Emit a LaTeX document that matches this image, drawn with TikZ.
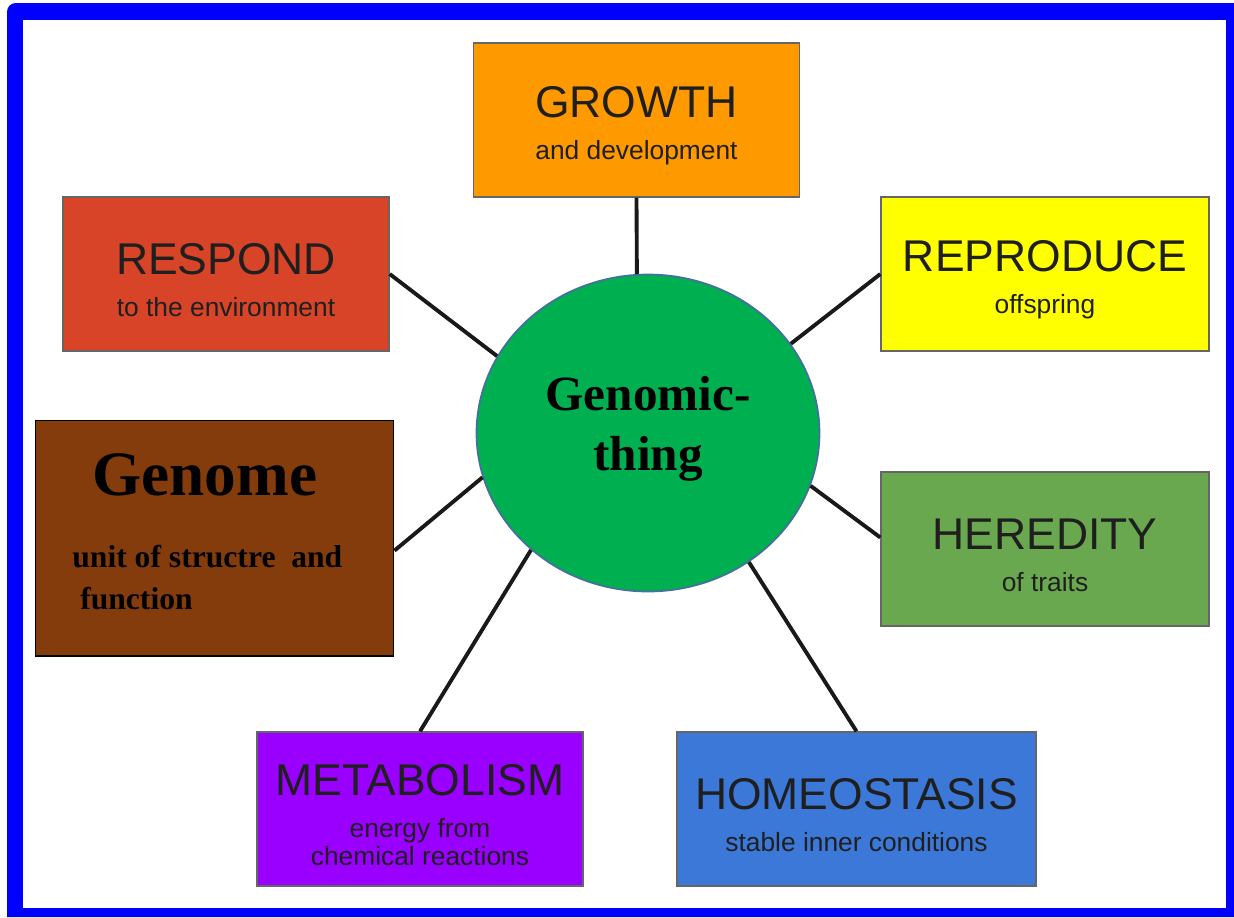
\documentclass[tikz,border=0pt]{standalone}
\usepackage{fontspec}
\setmainfont{Liberation Serif}
\newfontfamily\arialfont{Liberation Sans}
\usetikzlibrary{shapes.geometric}

\definecolor{frameblue}{HTML}{0000FF}
\definecolor{coregreen}{HTML}{00B050}
\definecolor{coreedge}{HTML}{41719C}
\definecolor{growthcol}{HTML}{FF9900}
\definecolor{respondcol}{HTML}{D84427}
\definecolor{reproducecol}{HTML}{FFFF00}
\definecolor{hereditycol}{HTML}{6AA84F}
\definecolor{metabolismcol}{HTML}{9900FF}
\definecolor{homeostasiscol}{HTML}{3C78D8}
\definecolor{genomecol}{HTML}{843C0C}

\newcommand\traittitle{\arialfont\fontsize{25.3}{25.3}\selectfont\rule{0pt}{24.5pt}}
\newcommand\traitsub{\arialfont\fontsize{15}{15.9}\selectfont}

\tikzset{
	trait/.style={draw=black!60, line width=0.8pt, minimum width=6.52cm, minimum height=3.08cm, align=center, inner sep=0pt, text=black!88, font=\traitsub},
	link/.style={draw=black!90, line width=2.2pt},
}

\begin{document}
\begin{tikzpicture}[x=0.02cm, y=-0.02cm]
	\useasboundingbox (0,0) rectangle (1234,917);
	\fill[frameblue] (1234,917) -- (7,917) [rounded corners=5pt] -- (7,3) [sharp corners] -- (1234,3) -- cycle;
	\fill[white] (23,20) rectangle (1226,908);
	\node[ellipse, draw=coreedge, line width=1pt, fill=coregreen, minimum width=6.86cm, minimum height=6.34cm, align=center, text depth=10.8pt, font=\fontsize{28}{34}\selectfont\bfseries] (core) at (648,433) {Genomic-\\thing};
	\node[trait, fill=growthcol] (growth) at (636.5,120) {{\traittitle GROWTH}\\[8pt]and development};
	\node[trait, fill=respondcol] (respond) at (226,274) {{\traittitle RESPOND}\\[8pt]to the environment};
	\node[trait, fill=reproducecol, minimum width=6.56cm] (reproduce) at (1045,274) {{\traittitle REPRODUCE}\\[8pt]offspring};
	\node[trait, fill=hereditycol, minimum width=6.56cm] (heredity) at (1045,549) {{\traittitle HEREDITY}\\[8pt]of traits};
	\node[trait, fill=metabolismcol] (metabolism) at (420,809) {{\traittitle METABOLISM}\\[8.5pt]energy from\\chemical reactions};
	\node[trait, fill=homeostasiscol, minimum width=7.18cm] (homeostasis) at (856.5,809) {{\traittitle HOMEOSTASIS}\\[8pt]stable inner conditions};
	\node[draw=black, line width=0.6pt, fill=genomecol, minimum width=7.18cm, minimum height=4.72cm] (genome) at (214.5,538) {};
	\node[anchor=base west, inner sep=0pt, font=\fontsize{36}{36}\selectfont\bfseries] (genometitle) at (92,495) {Genome};
	\node[anchor=north west, align=left, inner sep=0pt, font=\fontsize{18}{23.8}\selectfont\bfseries] (genomenote) at (72,545) {unit of structre\ \ and\\\hspace*{4.5pt}function};
	\draw[link] (growth.south) -- (core.94);
	\draw[link] (respond.east) -- (core.153);
	\draw[link] (reproduce.west) -- (core.32);
	\draw[link] (heredity.176) -- (core.-18);
	\draw[link] (genome.-4) -- (core.195);
	\draw[link] (metabolism.north) -- (core.225);
	\draw[link] (homeostasis.north) -- (core.-52);
\end{tikzpicture}
\end{document}
